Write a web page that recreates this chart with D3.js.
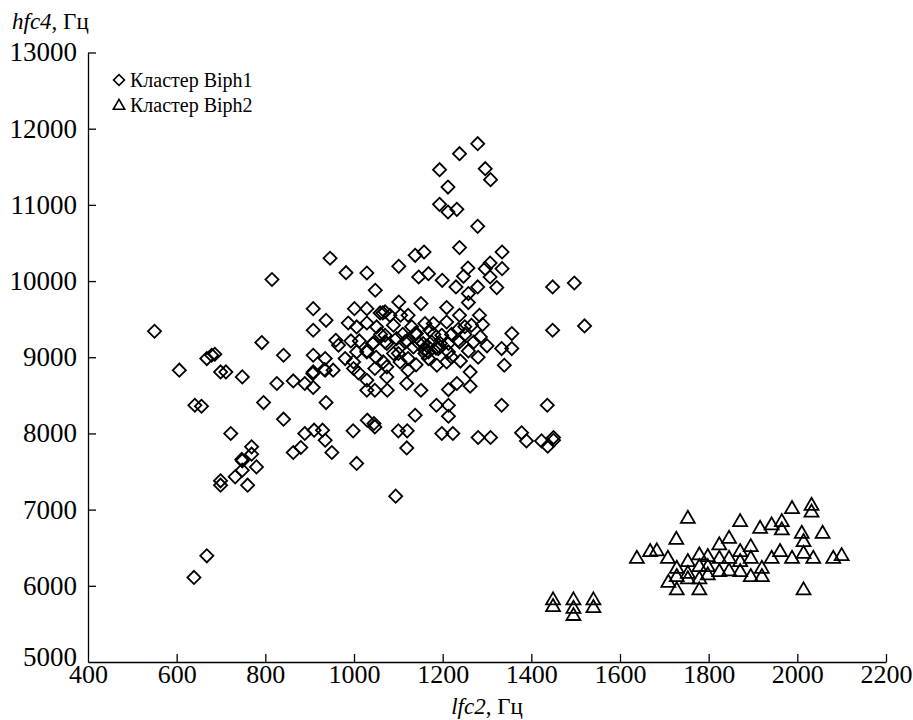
<!DOCTYPE html>
<html>
<head>
<meta charset="utf-8">
<script src="https://cdn.jsdelivr.net/npm/d3@7"></script>
<style>
  body { margin: 0; background: #fff; }
  text { font-family: 'Liberation Serif', 'Times New Roman', serif; fill: #000; }
</style>
</head>
<body>
<div id="chart"></div>
<script>
// lfc2, hfc4 (Hz)
const biph1 = [
  [946, 10300], [982, 10110], [1029, 10106], [1048, 9879], [815, 10020], [908, 9638], [937, 9485],
  [908, 9354], [1001, 9638], [1029, 9638], [987, 9450], [1029, 9450], [1006, 9398], [1051, 9398],
  [1059, 9582], [550, 9341], [792, 9193], [959, 9223], [993, 9214], [1012, 9214], [965, 9157],
  [1042, 9180], [841, 9026], [908, 9026], [679, 9026], [668, 8983], [686, 9039], [1006, 9070],
  [1029, 9083], [1279, 11803], [1238, 11672], [1193, 11462], [1296, 11475], [1308, 11331],
  [1212, 11234], [1193, 11007], [1212, 10906], [1232, 10941], [1279, 10718], [1238, 10439],
  [1334, 10381], [1138, 10338], [1158, 10381], [1101, 10193], [1257, 10171], [1307, 10237],
  [1296, 10163], [1334, 10163], [1146, 10053], [1168, 10097], [1199, 10010], [1247, 10062],
  [1307, 10053], [1322, 9914], [1230, 9923], [1279, 9923], [1258, 9836], [1258, 9718], [1448, 9923],
  [1497, 9975], [1448, 9354], [1520, 9411], [1101, 9725], [1151, 9704], [1209, 9652], [1238, 9551],
  [1283, 9551], [1265, 9420], [1285, 9267], [1356, 9311], [1333, 9114], [1356, 9114], [1258, 9083],
  [1070, 9597], [1089, 9420], [1105, 9551], [1122, 9551], [1070, 9289], [1096, 9245], [1119, 9214],
  [1141, 9311], [1160, 9442], [1179, 9442], [1209, 9463], [1235, 9363], [1171, 9354], [1198, 9289],
  [1213, 9180], [1190, 9114], [1235, 9223], [1156, 9180], [1134, 9135], [1104, 9135], [1074, 9180],
  [1089, 9049], [1168, 9070], [606, 8830], [699, 8807], [711, 8807], [748, 8742], [826, 8655],
  [863, 8689], [889, 8655], [908, 8603], [935, 8983], [908, 8807], [935, 8830], [953, 8830],
  [641, 8370], [656, 8357], [796, 8405], [937, 8405], [841, 8187], [722, 7999], [769, 7824],
  [769, 7728], [747, 7659], [863, 7750], [880, 7816], [889, 7999], [910, 8043], [929, 8043],
  [935, 7911], [950, 7750], [998, 8034], [1030, 8174], [1045, 8130], [1047, 8086], [1006, 7606],
  [1100, 8034], [1120, 8034], [1119, 7810], [1138, 8239], [1186, 8370], [1213, 8370], [1213, 8226],
  [1198, 7999], [1223, 7999], [1280, 7947], [1308, 7947], [1333, 8370], [1339, 8895], [1262, 8807],
  [1262, 8620], [1232, 8655], [1213, 8576], [1151, 8567], [1119, 8655], [1074, 8742], [1075, 8567],
  [1047, 8567], [1029, 8698], [1029, 8567], [1065, 9582], [1081, 9551], [1044, 9188], [1070, 9201],
  [980, 8983], [999, 8939], [999, 8852], [1010, 8795], [1029, 9070], [1047, 8852], [1066, 8939],
  [1074, 8874], [1100, 9049], [1104, 8939], [1122, 8983], [1122, 8830], [1147, 9180], [1160, 9092],
  [1168, 8983], [1187, 8895], [1209, 8939], [1138, 9311], [1115, 9201], [1194, 9135], [1213, 9070],
  [1238, 9201], [907, 8786], [933, 8839], [748, 7640], [748, 7518], [732, 7430], [780, 7561],
  [760, 7321], [699, 7378], [699, 7321], [668, 6394], [639, 6110], [1436, 8370], [1378, 8008],
  [1389, 7902], [1423, 7902], [1437, 7833], [1450, 7947], [1450, 7911], [1094, 7177],
  [1165, 9150], [1175, 9200], [1185, 9120], [1160, 9050], [1195, 9180], [1220, 9300], [1250, 9300],
  [1180, 9300], [1130, 9400], [1250, 9400], [1270, 9200], [1290, 9430], [1110, 9300], [1060, 9300],
  [1220, 9000], [1240, 8950], [1280, 9000], [1300, 9150], [1140, 8900], [1050, 9000]
]

const biph2 = [
  [1449, 5835], [1449, 5747], [1495, 5835], [1495, 5725], [1495, 5630], [1540, 5835], [1540, 5734],
  [1638, 6381], [1668, 6469], [1683, 6478], [1708, 6381], [1727, 6630], [1753, 6906], [1728, 6250],
  [1728, 6141], [1709, 6066], [1728, 5966], [1753, 6338], [1753, 6184], [1753, 6111], [1779, 6425],
  [1779, 6272], [1779, 6111], [1779, 5966], [1798, 6403], [1798, 6272], [1798, 6163], [1824, 6557],
  [1824, 6381], [1824, 6207], [1846, 6643], [1846, 6381], [1846, 6216], [1871, 6862], [1871, 6469],
  [1871, 6338], [1871, 6207], [1895, 6534], [1895, 6381], [1895, 6141], [1916, 6774], [1920, 6250],
  [1920, 6141], [1942, 6819], [1942, 6381], [1961, 6469], [1965, 6862], [1965, 6753], [1988, 7034],
  [1988, 6381], [2010, 6709], [2014, 6600], [2014, 6447], [2014, 5966], [2032, 7076], [2032, 6988],
  [2036, 6381], [2057, 6709], [2081, 6381], [2100, 6416]
]

const xTicks = [400, 600, 800, 1000, 1200, 1400, 1600, 1800, 2000, 2200]
const yTicks = [5000, 6000, 7000, 8000, 9000, 10000, 11000, 12000, 13000]
const legendLabels = ['Кластер Biph1', 'Кластер Biph2']

const width = 913
const height = 720
const margin = {top: 52.5, right: 27, bottom: 58, left: 88}

const svg = d3.select('#chart')
  .append('svg')
  .attr('width', width)
  .attr('height', height)

const x = d3.scaleLinear().domain([400, 2200]).range([margin.left, width - margin.right])
const y = d3.scaleLinear().domain([5000, 13000]).range([height - margin.bottom, margin.top])

const diamond = d3.symbol().type(d3.symbolSquare).size(86)
const triangle = d3.symbol().type(d3.symbolTriangle).size(84)

// axes: ticks point inward, no frame on top/right
const xAxis = svg.append('g')
  .attr('transform', `translate(0,${y(5000)})`)
  .call(d3.axisBottom(x).tickValues(xTicks).tickSize(-8).tickSizeOuter(0).tickFormat(d3.format('d')))

const yAxis = svg.append('g')
  .attr('transform', `translate(${x(400)},0)`)
  .call(d3.axisLeft(y).tickValues(yTicks).tickSize(-8).tickSizeOuter(0).tickFormat(d3.format('d')))

svg.selectAll('.domain, .tick line')
  .attr('stroke', '#000')
  .attr('stroke-width', 1.3)

xAxis.selectAll('.tick text')
  .attr('y', 21)
  .attr('dy', 0)
  .style('font-size', '26px')
  .style('font-family', "'Liberation Serif', serif")

// the lowest label sits a bit higher so it clears the 400 label
yAxis.selectAll('.tick text')
  .attr('x', -11)
  .attr('y', d => d === 5000 ? -6 : -1)
  .attr('dy', '0.35em')
  .style('font-size', '27px')
  .style('font-family', "'Liberation Serif', serif")

// hide 400 / 5000 tick lines that sit on the other axis
svg.selectAll('.tick line').filter(d => d === 400 || d === 5000).remove()

const g = svg.append('g')
  .attr('fill', 'none')
  .attr('stroke', '#000')
  .attr('stroke-width', 1.8)

g.selectAll('.b1')
  .data(biph1)
  .join('path')
  .attr('class', 'b1')
  .attr('d', diamond)
  .attr('transform', d => `translate(${x(d[0])},${y(d[1])}) rotate(45)`)

g.selectAll('.b2')
  .data(biph2)
  .join('path')
  .attr('class', 'b2')
  .attr('d', triangle)
  .attr('transform', d => `translate(${x(d[0])},${y(d[1]) + 2})`)

// axis titles
const yTitle = svg.append('text')
  .attr('x', 12)
  .attr('y', 29)
  .style('font-size', '23px')
yTitle.append('tspan').style('font-style', 'italic').text('hfc4')
yTitle.append('tspan').text(', Гц')

const xTitle = svg.append('text')
  .attr('x', x(1300))
  .attr('y', 714)
  .attr('text-anchor', 'middle')
  .style('font-size', '23px')
xTitle.append('tspan').style('font-style', 'italic').text('lfc2')
xTitle.append('tspan').text(', Гц')

// legend
const legend = svg.append('g')
  .attr('transform', 'translate(119,80)')

const items = legend.selectAll('g')
  .data(legendLabels)
  .join('g')
  .attr('transform', (d, i) => `translate(0,${i * 25})`)

items.append('path')
  .attr('d', (d, i) => i === 0 ? diamond.size(60)() : triangle.size(56)())
  .attr('transform', (d, i) => i === 0 ? 'rotate(45)' : 'translate(0,1)')
  .attr('fill', 'none')
  .attr('stroke', '#000')
  .attr('stroke-width', 1.6)

items.append('text')
  .attr('x', 11)
  .attr('y', 7)
  .style('font-size', '20px')
  .text(d => d)
</script>
</body>
</html>
